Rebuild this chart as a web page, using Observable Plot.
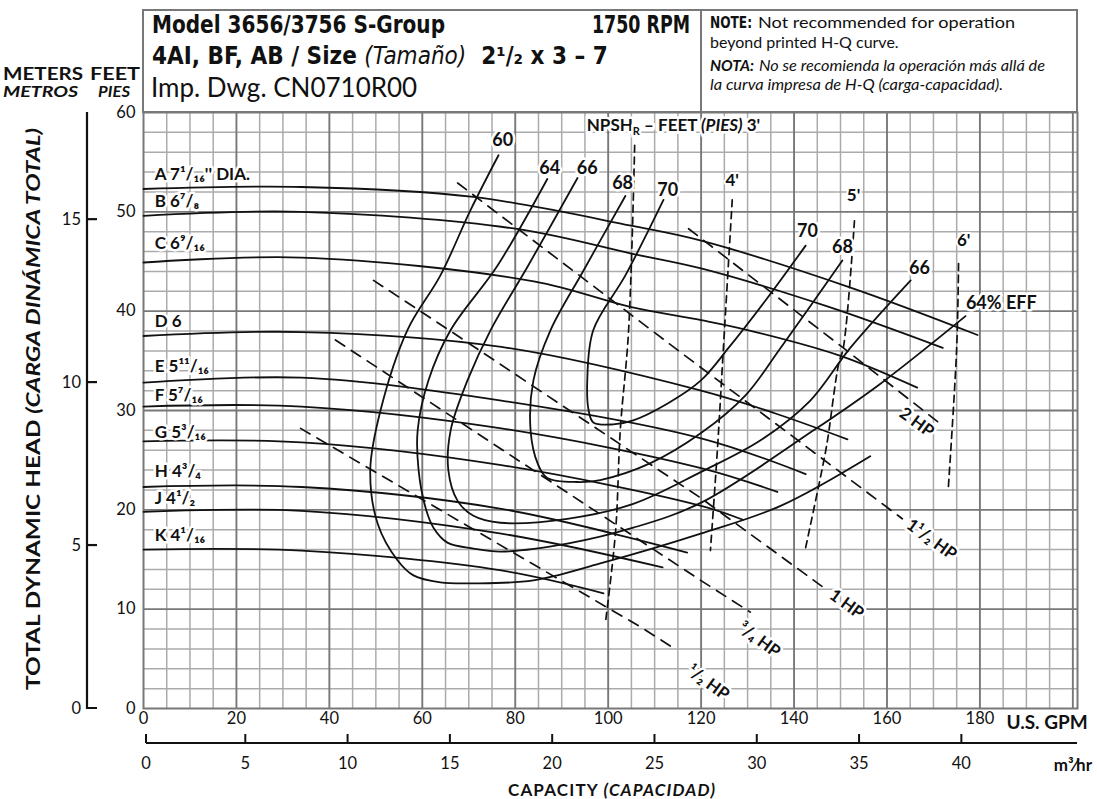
<!DOCTYPE html>
<html><head><meta charset="utf-8">
<script src="https://cdn.jsdelivr.net/npm/d3@7"></script>
<script src="https://cdn.jsdelivr.net/npm/@observablehq/plot@0.6"></script>
<style>
body{margin:0;background:#fff}
#chart{width:1097px;height:799px;position:relative}
</style>
</head><body><div id="chart"></div>
<script>
// ---------- tick labels ----------
const gpmTicks = [0,20,40,60,80,100,120,140,160,180];
const m3Ticks = [0,5,10,15,20,25,30,35,40];
const ftTicks = [0,10,20,30,40,50,60];
const mTicks = [0,5,10,15];
const GPM_PER_M3H = 4.40287;
const FT_PER_M = 3.28084;

// ---------- impeller H-Q curves [GPM, feet] ----------
const impNames = ["A 7¹/₁₆'' DIA.","B 6⁷/₈","C 6⁹/₁₆","D 6","E 5¹¹/₁₆","F 5⁷/₁₆","G 5³/₁₆","H 4³/₄","J 4¹/₂","K 4¹/₁₆"];
const impLabelHead = [53.8,51.0,46.8,39.0,34.4,31.5,27.8,23.9,21.1,17.4];
const hqA = [[0,52.3],[34,52.5],[71,51.5],[105,48.6],[120,47.1],[152,42.4],[179.5,37.6]];
const hqB = [[0,49.6],[34,50.0],[80,48.3],[105,45.8],[120,44.3],[147,40.5],[172,36.3]];
const hqC = [[0,44.9],[34,45.4],[84,43.0],[105,40.4],[120,39.1],[130,38.1],[150,35.5],[166.5,32.3]];
const hqD = [[0,37.5],[34,37.9],[77,36.4],[120,32.0],[136,29.7],[151.5,27.1]];
const hqE = [[0,32.8],[34,33.3],[77,31.0],[120,27.2],[142.5,23.6]];
const hqF = [[0,30.4],[34,30.4],[77,28.2],[120,24.2],[136.4,21.8]];
const hqG = [[0,26.9],[34,26.8],[77,24.5],[120,20.4],[129,19.0]];
const hqH = [[0,22.3],[34,22.3],[77,20.1],[117,15.7]];
const hqJ = [[0,19.8],[34,19.9],[77,17.6],[111.7,14.2]];
const hqK = [[0,16.0],[34,15.9],[77,13.9],[99,11.6]];

// ---------- efficiency contours [GPM, feet] ----------
const eff60 = [[76.4,55.7],[70.4,50.2],[63.9,43.6],[56.8,38.1],[51.0,30.0],[48.8,24.0],[50.4,18.6],[54.7,14.9],[58.1,13.4],[63.9,12.7],[71.0,12.6],[83.9,12.9],[98.3,14.6],[119.9,17.6],[137.1,20.4],[156.4,25.4]];
const eff64 = [[86.9,53.3],[76.2,44.6],[66.1,38.1],[61.3,33.0],[59.0,28.0],[59.2,24.0],[60.7,20.2],[62.4,18.2],[65.4,16.7],[71.0,16.1],[76.8,15.8],[91.2,16.6],[105.4,18.2],[119.9,20.7],[144.2,28.0],[158.6,32.7],[176.9,39.5]];
const eff66 = [[93.4,53.4],[82.8,44.6],[74.7,38.1],[69.7,33.0],[66.1,28.0],[65.6,24.0],[67.6,20.9],[71.0,19.4],[76.8,18.7],[91.2,19.1],[105.4,20.6],[119.9,23.8],[132.8,27.0],[143.5,31.0],[152.1,36.3],[165.1,43.1]];
const eff68 = [[103.7,51.6],[94.7,44.1],[87.6,38.1],[83.9,33.0],[83.3,28.0],[84.8,24.7],[86.9,23.2],[93.4,22.8],[98.3,23.0],[109.1,24.7],[119.9,27.7],[129.5,31.5],[137.1,36.3],[150.4,45.1]];
const eff70 = [[111.9,51.2],[103.7,43.6],[96.8,38.1],[95.5,33.0],[95.8,30.0],[96.8,28.8],[101.1,28.6],[105.4,29.0],[112.8,30.7],[119.9,33.0],[125.9,36.3],[133.9,41.1],[142.5,46.6]];
const effLabels = [
  {t:"60",q:77.3,h:57.2},{t:"64",q:87.4,h:54.4},{t:"66",q:95.5,h:54.4},{t:"68",q:103.1,h:52.9},{t:"70",q:112.8,h:52.2},
  {t:"70",q:142.9,h:48.0},{t:"68",q:150.4,h:46.4},{t:"66",q:167.0,h:44.3},{t:"64% EFF",q:184.6,h:40.8}
];

// ---------- horsepower lines [GPM, feet] ----------
const hpHalf = [[33.8,28.2],[107.0,8.2],[114.7,5.9]];
const hpThreeQ = [[41.3,37.1],[119.9,12.9],[130.6,9.7]];
const hpOne = [[49.5,43.1],[66.7,37.8],[119.9,21.2],[146.3,12.2]];
const hpOneHalf = [[67.6,52.9],[114.9,36.1],[163.3,19.1]];
const hpTwo = [[117.3,48.3],[150.6,36.3],[171.1,28.8]];
const hpLabels = [
  {t:"¹/₂ HP",q:121.5,h:2.6},{t:"³/₄ HP",q:132.5,h:6.9},{t:"1 HP",q:151.3,h:10.5},
  {t:"1¹/₂ HP",q:169.6,h:17.0},{t:"2 HP",q:166.4,h:28.8}
];

// ---------- NPSHr lines [GPM, feet] ----------
const npsh3 = [[105.7,56.7],[104.4,38.1],[102.6,28.0],[101.6,17.9],[99.4,8.6]];
const npsh4 = [[126.7,51.2],[124.8,36.3],[123.5,26.0],[122.0,15.9]];
const npsh5 = [[153.0,49.1],[150.6,36.3],[149.6,34.7],[147.2,27.0],[146.3,24.7],[142.5,16.2]];
const npsh6 = [[175.4,44.8],[175.0,36.3],[173.2,22.2]];
const npshLabels = [{t:"4'",q:126.7,h:53.1},{t:"5'",q:152.8,h:51.6},{t:"6'",q:176.5,h:47.1}];

// ---------- build tables ----------
const rows = (id, pts) => pts.map(([q,h]) => ({id, q, h}));
const hqRows = [hqA,hqB,hqC,hqD,hqE,hqF,hqG,hqH,hqJ,hqK].flatMap((c,i) => rows(impNames[i], c));
const effRows = [["60",eff60],["64",eff64],["66",eff66],["68",eff68],["70",eff70]].flatMap(([k,c]) => rows(k,c));
const hpRows = [["0.5",hpHalf],["0.75",hpThreeQ],["1",hpOne],["1.5",hpOneHalf],["2",hpTwo]].flatMap(([k,c]) => rows(k,c));
const npshRows = [["3",npsh3],["4",npsh4],["5",npsh5],["6",npsh6]].flatMap(([k,c]) => rows(k,c));
const impLabelRows = impNames.map((t,i) => ({t, q:2.4, h:impLabelHead[i]}));

const gridMinorX = d3.range(0, 201, 5).filter(v => v % 20 !== 0);
const gridMajorX = d3.range(20, 201, 20);
const gridMinorY = d3.range(0, 61, 2).filter(v => v % 10 !== 0);
const gridMajorY = d3.range(10, 60, 10);

const FONT = "Lato, 'Open Sans', 'DejaVu Sans', sans-serif";
const COND = "'DejaVu Sans Condensed','Liberation Sans Narrow','DejaVu Sans',sans-serif";
const INK = "#111";
const lbl = {fill: INK, fontWeight: "bold", stroke: "white", paintOrder: "stroke"};

const chart = Plot.plot({
  width: 1097, height: 799,
  marginLeft: 143, marginRight: 20, marginTop: 112, marginBottom: 91,
  x: {domain: [0, 201], axis: null},
  y: {domain: [0, 60], axis: null},
  style: {fontFamily: FONT, background: "white", color: INK},
  marks: [
    Plot.ruleX(gridMinorX, {stroke: "#ababab", strokeWidth: 1.5}),
    Plot.ruleY(gridMinorY, {stroke: "#ababab", strokeWidth: 1.5}),
    Plot.ruleX(gridMajorX, {stroke: "#787878", strokeWidth: 1.9}),
    Plot.ruleY(gridMajorY, {stroke: "#787878", strokeWidth: 1.9}),
    Plot.frame({stroke: "#787878", strokeWidth: 2}),
    Plot.line(hpRows, {x: "q", y: "h", z: "id", stroke: INK, strokeWidth: 1.7, strokeDasharray: "11,8"}),
    Plot.line(npshRows, {x: "q", y: "h", z: "id", stroke: INK, strokeWidth: 1.7, strokeDasharray: "7,5", curve: "catmull-rom"}),
    Plot.line(hqRows, {x: "q", y: "h", z: "id", stroke: INK, strokeWidth: 1.8, curve: "catmull-rom"}),
    Plot.line(effRows, {x: "q", y: "h", z: "id", stroke: INK, strokeWidth: 1.8, curve: "catmull-rom"}),
    Plot.text(impLabelRows, {x: "q", y: "h", text: "t", textAnchor: "start", fontSize: 17, strokeWidth: 5, ...lbl}),
    Plot.text(effLabels, {x: "q", y: "h", text: "t", fontSize: 18, strokeWidth: 5, ...lbl}),
    Plot.text(hpLabels, {x: "q", y: "h", text: "t", fontSize: 17, rotate: 36, strokeWidth: 5, ...lbl}),
    Plot.text(npshLabels, {x: "q", y: "h", text: "t", fontSize: 17, strokeWidth: 4, ...lbl}),
    Plot.text(gpmTicks, {x: d => d, frameAnchor: "bottom", dy: 15, fontSize: 16.5, fill: INK}),
    Plot.text(ftTicks, {y: d => d, frameAnchor: "left", dx: -8, textAnchor: "end", fontSize: 16.5, fill: INK})
  ]
});
document.getElementById("chart").appendChild(chart);

const xs = chart.scale("x"), ys = chart.scale("y");
const svg = d3.select(chart);
const X = v => xs.apply(v), Y = v => ys.apply(v);

// text helper (explicit anchor; Plot's svg defaults to middle)
const T = (x, y, o = {}) => svg.append("text").attr("x", x).attr("y", y)
  .attr("text-anchor", o.anchor || "start").attr("font-family", o.family || FONT)
  .attr("font-size", o.size || 16).attr("font-weight", o.weight || "normal")
  .attr("font-style", o.style || "normal").attr("fill", INK);
const fit = (sel, len, glyphs) => sel.attr("textLength", len).attr("lengthAdjust", glyphs ? "spacingAndGlyphs" : "spacing");

// NPSH title
const np = T(X(95.5), Y(58.1), {size: 17, weight: "bold"})
  .attr("stroke", "white").attr("stroke-width", 5).attr("paint-order", "stroke");
np.append("tspan").text("NPSH");
np.append("tspan").attr("font-size", 11).attr("dy", 4).text("R");
np.append("tspan").attr("dy", -4).text(" – FEET ");
np.append("tspan").attr("font-style", "italic").text("(PIES)");
np.append("tspan").text(" 3'");

// U.S. GPM label
T(X(180) + 27, Y(0) + 21, {size: 19, weight: "bold"}).text("U.S. GPM");

// m3/hr axis
const m3y = 743;
svg.append("line").attr("x1", X(0) + 3).attr("x2", X(201)).attr("y1", m3y).attr("y2", m3y)
  .attr("stroke", INK).attr("stroke-width", 2.2);
m3Ticks.forEach(m => {
  const px = X(m * GPM_PER_M3H) + (m === 0 ? 3 : 0);
  svg.append("line").attr("x1", px).attr("x2", px).attr("y1", m3y).attr("y2", m3y - 9)
    .attr("stroke", INK).attr("stroke-width", 2);
  T(px, 769, {anchor: "middle", size: 16.5}).text(m);
});
T(1092, 771, {anchor: "end", weight: "bold", size: 17}).text("m³⁄hr");

// capacity title
const cap = fit(T(508, 796, {weight: "bold", size: 17}), 207);
cap.append("tspan").text("CAPACITY ");
cap.append("tspan").attr("font-style", "italic").text("(CAPACIDAD)");

// meters axis
const mx = 87;
svg.append("path").attr("d", `M${mx},${Y(60)}V${Y(0)}H${mx + 10}`).attr("fill", "none")
  .attr("stroke", INK).attr("stroke-width", 2.2);
mTicks.forEach(m => {
  const py = Y(m * FT_PER_M);
  if (m > 0) svg.append("line").attr("x1", mx).attr("x2", mx + 10).attr("y1", py).attr("y2", py)
    .attr("stroke", INK).attr("stroke-width", 2.2);
  T(81, py, {anchor: "end", size: 16.5}).attr("dy", "0.35em").text(m);
});

// vertical axis title
const vt = fit(svg.append("text").attr("transform", `translate(40,690) rotate(-90)`)
  .attr("text-anchor", "start").attr("font-family", FONT).attr("font-size", 19.5).attr("font-weight", "bold")
  .attr("fill", INK), 562, true);
vt.append("tspan").text("TOTAL DYNAMIC HEAD ");
vt.append("tspan").attr("font-style", "italic").text("(CARGA DINÁMICA TOTAL)");

// units labels
fit(T(3, 80, {size: 16.5, weight: "bold"}), 80, true).text("METERS");
fit(T(90, 80, {size: 16.5, weight: "bold"}), 50, true).text("FEET");
fit(T(3, 97, {size: 15, weight: "bold", style: "italic"}), 75, true).text("METROS");
fit(T(98, 97, {size: 15, weight: "bold", style: "italic"}), 32, true).text("PIES");

// header box
const hx0 = X(0), hx1 = X(201), hy0 = 10, hy1 = Y(60);
svg.append("rect").attr("x", hx0).attr("y", hy0).attr("width", hx1 - hx0).attr("height", hy1 - hy0)
  .attr("fill", "white").attr("stroke", "#787878").attr("stroke-width", 2);
svg.append("line").attr("x1", 701).attr("x2", 701).attr("y1", hy0).attr("y2", hy1)
  .attr("stroke", "#787878").attr("stroke-width", 2);

const condOpts = size => ({family: COND, size, weight: "bold"});
fit(T(152, 33, condOpts(25)).attr("font-stretch", "condensed"), 293, true).text("Model 3656/3756 S-Group");
fit(T(592, 33, condOpts(25)).attr("font-stretch", "condensed"), 98, true).text("1750 RPM");
const l2 = T(152, 64, condOpts(24)).attr("font-stretch", "condensed");
l2.append("tspan").text("4AI, BF, AB / Size ");
l2.append("tspan").attr("font-style", "italic").attr("font-weight", "normal").text("(Tamaño)");
l2.append("tspan").text("  2¹/₂ x 3 – 7");
T(151, 97, {size: 26}).text("Imp. Dwg. CN0710R00");

// notes: each run is its own text element, placed after the previous one
const noteA = fit(T(710, 28, {family: COND, size: 16, weight: "bold"}).attr("font-stretch", "condensed"), 42, true).text("NOTE:");
fit(T(758, 28, {size: 16}), 1015 - 758, true).text("Not recommended for operation");
T(710, 48, {size: 16}).text("beyond printed H-Q curve.");
const notaA = fit(T(710, 71, {size: 15, weight: "bold", style: "italic"}), 44, true).text("NOTA:");
fit(T(759, 71, {size: 15, style: "italic"}), 1045 - 759, true).text("No se recomienda la operación más allá de");
fit(T(710, 90, {size: 15, style: "italic"}), 293, true).text("la curva impresa de H-Q (carga-capacidad).");
</script>
</body></html>
